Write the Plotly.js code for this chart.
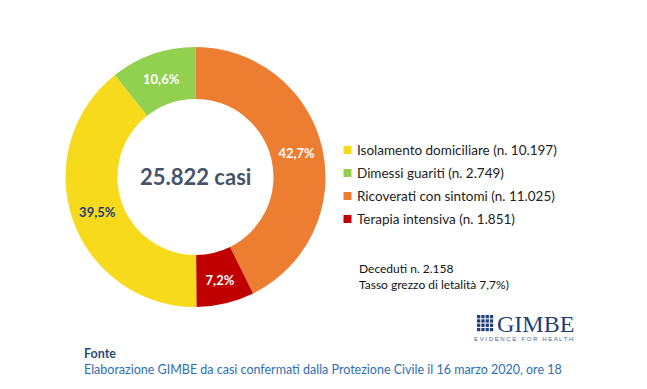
<!DOCTYPE html>
<html>
<head>
<meta charset="utf-8">
<script src="https://cdn.plot.ly/plotly-3.0.1.min.js"></script>
<style>html,body{margin:0;padding:0;background:#fff;}#chart{width:647px;height:389px;}</style>
</head>
<body>
<div id="chart"></div>
<script>
// ---- data ----
const categories = ["Isolamento domiciliare", "Dimessi guariti", "Ricoverati con sintomi", "Terapia intensiva"];
const values = [10197, 2749, 11025, 1851];
const colors = ["#F6DA1B", "#92D050", "#ED7D31", "#C00000"];
const labelColors = ["#1F3F7A", "#FFFFFF", "#FFFFFF", "#FFFFFF"];
const totalLabel = "25.822 casi";
const deathsText = ["Deceduti n. 2.158", "Tasso grezzo di letalità 7,7%)"];
const sourceTitle = "Fonte";
const sourceText = "Elaborazione GIMBE da casi confermati dalla Protezione Civile il 16 marzo 2020, ore 18";

// ---- helpers ----
const W = 647, H = 389;
const px = x => x / W;
const py = y => 1 - y / H;
const itNum = n => String(n).replace(/\B(?=(\d{3})+(?!\d))/g, ".");
const total = values.reduce((a, b) => a + b, 0);
const FONT = "Lato, 'Open Sans', sans-serif";

const trace = {
  type: "pie",
  labels: categories,
  values: values,
  sort: false,
  direction: "clockwise",
  rotation: 360 * (values[2] + values[3]) / total,
  hole: 0.6,
  marker: { colors: colors, line: { width: 0 } },
  texttemplate: "%{percent:.1%}",
  textposition: "inside",
  insidetextorientation: "horizontal",
  textfont: { family: FONT, size: 13, color: labelColors, weight: "bold" },
  showlegend: false,
  hoverinfo: "label+value+percent",
  domain: { x: [px(65.5), px(325.5)], y: [py(307), py(47)] }
};

const annotations = [];
const shapes = [];

// center label
annotations.push({ xref: "paper", yref: "paper", x: px(195.5), y: py(177), text: "<b>" + totalLabel + "</b>",
  showarrow: false, xanchor: "center", yanchor: "middle", font: { family: FONT, size: 22, color: "#44546A" } });

// custom legend
const legY = [150, 173, 196, 219];
categories.forEach((c, i) => {
  shapes.push({ type: "rect", xref: "paper", yref: "paper", x0: px(343.5), x1: px(351.5), y0: py(legY[i] + 4), y1: py(legY[i] - 4),
    fillcolor: colors[i], line: { width: 0 } });
  annotations.push({ xref: "paper", yref: "paper", x: px(355), y: py(legY[i]), xanchor: "left", yanchor: "middle",
    text: c + " (n. " + itNum(values[i]) + ")", showarrow: false, font: { family: FONT, size: 13.5, color: "#222222" } });
});

// deaths
deathsText.forEach((t, i) => {
  annotations.push({ xref: "paper", yref: "paper", x: px(357), y: py(268 + i * 16.5), xanchor: "left", yanchor: "middle",
    text: t, showarrow: false, font: { family: FONT, size: 12, color: "#111111" } });
});

// logo
for (let r = 0; r < 4; r++) {
  for (let c = 0; c < 4; c++) {
    shapes.push({ type: "rect", xref: "paper", yref: "paper",
      x0: px(477 + c * 4.3), x1: px(477 + c * 4.3 + 3.3), y0: py(315 + r * 4.3 + 3.3), y1: py(315 + r * 4.3),
      fillcolor: "#1F3F7A", line: { width: 0 } });
  }
}
annotations.push({ xref: "paper", yref: "paper", x: px(495), y: py(324), xanchor: "left", yanchor: "middle",
  text: "GIMBE", showarrow: false, font: { family: "'Liberation Serif', serif", size: 24, color: "#1F3F7A" } });
annotations.push({ xref: "paper", yref: "paper", x: px(523), y: py(339), xanchor: "center", yanchor: "middle",
  text: "E V I D E N C E   F O R   H E A L T H", showarrow: false, font: { family: "'Liberation Sans', sans-serif", size: 6, color: "#4A6690" } });

// source
annotations.push({ xref: "paper", yref: "paper", x: px(82), y: py(353), xanchor: "left", yanchor: "middle",
  text: "<b>" + sourceTitle + "</b>", showarrow: false, font: { family: FONT, size: 12.5, color: "#1F4E79" } });
annotations.push({ xref: "paper", yref: "paper", x: px(82), y: py(369), xanchor: "left", yanchor: "middle",
  text: sourceText, showarrow: false, font: { family: FONT, size: 12.5, color: "#2E6EB5" } });

const layout = {
  width: W, height: H,
  margin: { l: 0, r: 0, t: 0, b: 0 },
  paper_bgcolor: "#ffffff",
  plot_bgcolor: "#ffffff",
  separators: ",.",
  annotations: annotations,
  shapes: shapes,
  showlegend: false
};

Plotly.newPlot("chart", [trace], layout, { displayModeBar: false, staticPlot: true });
</script>
</body>
</html>
